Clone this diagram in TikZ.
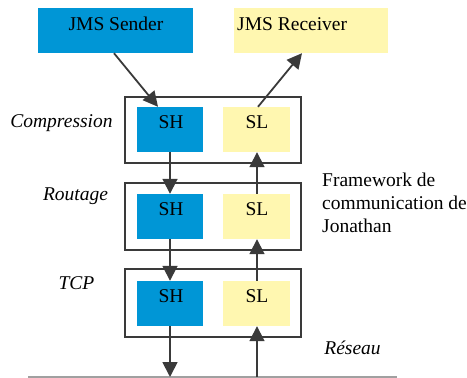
\documentclass[tikz,border=0pt]{standalone}
\usepackage{fontspec}
\setmainfont{Liberation Serif}
\usetikzlibrary{arrows.meta,calc}
\definecolor{jblue}{RGB}{0,150,214}
\definecolor{jyellow}{RGB}{255,247,176}
\definecolor{jdark}{RGB}{58,58,58}
\definecolor{jgray}{RGB}{160,160,160}
\begin{document}
\begin{tikzpicture}[x=1pt,y=-1pt,
  every node/.style={font=\fontsize{19.5}{23}\selectfont},
  bluebox/.style={fill=jblue,draw=none,inner sep=0pt},
  yellowbox/.style={fill=jyellow,draw=none,inner sep=0pt},
  topbox/.style={minimum width=155pt,minimum height=45pt},
  smallbox/.style={minimum width=66pt,minimum height=45pt},
  layerframe/.style={draw=jdark,line width=1.8pt,minimum width=176pt,minimum height=66pt,inner sep=0pt},
  boxtext/.style={inner sep=0pt,anchor=center},
  layerlabel/.style={font=\fontsize{19.5}{23}\selectfont\itshape,inner sep=0pt},
  flow/.style={draw=jdark,line width=1.8pt,-{Triangle[length=15pt,width=15pt]}}
]
\useasboundingbox (0,0) rectangle (467,378);
% top boxes
\node[bluebox,topbox] (snd) at (115.5,30.5) {};
\node[boxtext] (sndtxt) at (116,24) {JMS Sender};
\node[yellowbox,topbox,minimum width=154pt] (rcv) at (311,30.5) {};
\node[boxtext,anchor=west] (rcvtxt) at (237,24) {JMS Receiver};
% frames
\node[layerframe] (f1) at (213,130) {};
\node[layerframe,minimum height=67pt] (f2) at (213,216.5) {};
\node[layerframe,minimum height=68pt] (f3) at (213,303) {};
% SH / SL boxes
\node[bluebox,smallbox] (sh1) at (170,129.5) {};
\node[yellowbox,smallbox,minimum width=67pt] (sl1) at (256.5,129.5) {};
\node[bluebox,smallbox] (sh2) at (170,216.5) {};
\node[yellowbox,smallbox,minimum width=67pt] (sl2) at (256.5,216.5) {};
\node[bluebox,smallbox] (sh3) at (170,303.5) {};
\node[yellowbox,smallbox,minimum width=67pt] (sl3) at (256.5,303.5) {};
\node[boxtext] (sh1t) at (171,122) {SH};
\node[boxtext] (sl1t) at (257,122) {SL};
\node[boxtext] (sh2t) at (171,209) {SH};
\node[boxtext] (sl2t) at (257,209) {SL};
\node[boxtext] (sh3t) at (171,296) {SH};
\node[boxtext] (sl3t) at (257,296) {SL};
% labels
\node[layerlabel] (lc) at (61.5,123) {Compression};
\node[layerlabel] (lr) at (75.5,196) {Routage};
\node[layerlabel] (lt) at (76.5,283) {TCP};
\node[layerlabel] (lres) at (352.5,348) {Réseau};
\node[inner sep=0pt,anchor=west,align=left] (fw) at (322,203) {Framework de\\communication de\\Jonathan};
% network line
\coordinate (netl) at (28,377);
\coordinate (netr) at (397,377);
\draw[jgray,line width=1.5pt] (netl) -- (netr);
\coordinate (shnet) at (170,377);
\coordinate (slnet) at (257,377);
% arrows
\draw[flow] ($(snd.south)+(-1.5,0)$) -- ($(sh1.north)+(-12,0)$);
\draw[flow] ($(sl1.north)+(1.5,0)$) -- ($(rcv.south)+(-9,0)$);
\draw[flow] (sh1.south) -- (sh2.north);
\draw[flow] (sh2.south) -- (sh3.north);
\draw[flow] (sh3.south) -- (shnet);
\draw[flow] (slnet) -- ($(sl3.south)+(0.5,0)$);
\draw[flow] ($(sl3.north)+(0.5,0)$) -- ($(sl2.south)+(0.5,0)$);
\draw[flow] ($(sl2.north)+(0.5,0)$) -- ($(sl1.south)+(0.5,0)$);
\end{tikzpicture}
\end{document}
